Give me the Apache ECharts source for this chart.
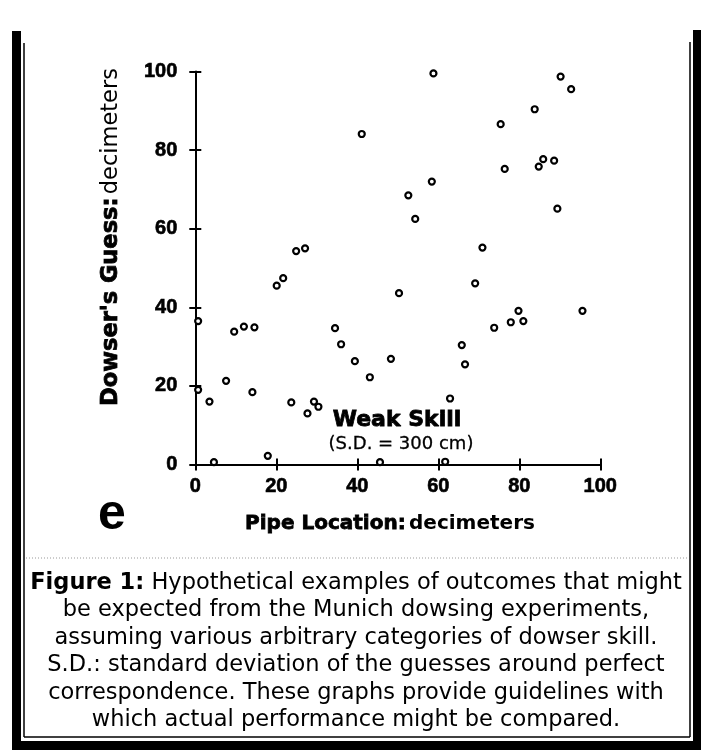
<!DOCTYPE html>
<html>
<head>
<meta charset="utf-8">
<script src="https://cdn.jsdelivr.net/npm/echarts@6.0.0/dist/echarts.min.js"></script>
<style>
  html, body { margin: 0; padding: 0; background: #fff; }
  #chart { width: 701px; height: 750px; }
</style>
</head>
<body>
<div id="chart"></div>
<script>
// pipe location (x) vs dowser's guess (y), both in decimeters
var pipeLocation = [0.7, 0.7, 3.5, 4.6, 7.6, 9.6, 12.0, 14.6, 14.1, 17.9,
  20.1, 21.7, 24.9, 27.1, 23.7, 27.7, 29.3, 30.4, 34.5, 36.0,
  39.4, 43.1, 45.6, 48.3, 50.3, 41.1, 52.6, 54.3, 58.4, 58.8,
  61.7, 62.9, 65.8, 66.6, 69.1, 70.9, 73.8, 75.4, 76.4, 77.9,
  79.8, 81.0, 83.8, 84.8, 85.9, 88.6, 89.4, 90.2, 92.8, 95.6];
var dowserGuess = [36.5, 19.0, 16.0, 0.6, 21.3, 33.8, 35.1, 34.9, 18.4, 2.2,
  45.5, 47.4, 54.3, 55.0, 15.8, 13.0, 16.0, 14.7, 34.7, 30.6,
  26.3, 22.2, 0.6, 26.9, 43.6, 84.1, 68.5, 62.5, 72.0, 99.5,
  0.7, 16.8, 30.4, 25.5, 46.1, 55.2, 34.8, 86.6, 75.2, 36.2,
  39.1, 36.5, 90.4, 75.8, 77.7, 77.3, 65.1, 98.7, 95.5, 39.1];
var xTicks = [0, 20, 40, 60, 80, 100];
var yTicks = [0, 20, 40, 60, 80, 100];

var panelLetter = 'e';
var panelTitle = 'Weak Skill';
var panelSubtitle = '(S.D. = 300 cm)';
var xName = ['Pipe Location:', 'decimeters'];
var yName = ["Dowser's Guess:", 'decimeters'];
var captionLines = [
  '{b|Figure 1:} Hypothetical examples of outcomes that might',
  'be expected from the Munich dowsing experiments,',
  'assuming various arbitrary categories of dowser skill.',
  'S.D.: standard deviation of the guesses around perfect',
  'correspondence. These graphs provide guidelines with',
  'which actual performance might be compared.'
];

var points = pipeLocation.map(function (x, i) { return [x, dowserGuess[i]]; });

var chart = echarts.init(document.getElementById('chart'));

function axisPair(type, ticks) {
  var base = {
    type: 'value',
    min: ticks[0],
    max: ticks[ticks.length - 1],
    interval: ticks[1] - ticks[0],
    splitLine: { show: false }
  };
  var labelMargin = type === 'x' ? 12 : 18;
  var main = Object.assign({}, base, {
    axisLine: { show: true, lineStyle: { color: '#000', width: 2 } },
    axisTick: { show: true, inside: false, length: 6, lineStyle: { color: '#000', width: 2 } },
    axisLabel: {
      color: '#000', fontFamily: 'Liberation Sans', fontWeight: 'bold',
      fontSize: 20, margin: labelMargin,
      textBorderColor: '#000', textBorderWidth: 0.6
    }
  });
  // second copy only draws the inner half of each tick
  var inner = Object.assign({}, base, {
    axisLine: { show: false },
    axisTick: { show: true, inside: true, length: 6, lineStyle: { color: '#000', width: 2 } },
    axisLabel: { show: false }
  });
  return [main, inner];
}

var xs = axisPair('x', xTicks);
var ys = axisPair('y', yTicks);
xs[0].position = 'bottom'; xs[1].position = 'bottom';
ys[0].position = 'left'; ys[1].position = 'left';

var captionGraphics = captionLines.map(function (line, i) {
  return {
    type: 'text',
    x: 356,
    y: 583 + i * 27.5,
    style: {
      text: line,
      font: '22.5px "DejaVu Sans"',
      fill: '#000',
      align: 'center', verticalAlign: 'middle',
      textAlign: 'center', textVerticalAlign: 'middle',
      rich: { b: { font: 'bold 22.5px "DejaVu Sans"', fill: '#000' } }
    }
  };
});

var frame = [
  { type: 'rect', shape: { x: 12, y: 31, width: 9, height: 719 }, style: { fill: '#000' } },
  { type: 'rect', shape: { x: 693, y: 30, width: 8, height: 720 }, style: { fill: '#000' } },
  { type: 'rect', shape: { x: 12, y: 741, width: 689, height: 9 }, style: { fill: '#000' } },
  { type: 'line', shape: { x1: 24, y1: 43, x2: 24, y2: 737 }, style: { stroke: '#000', lineWidth: 1.5 } },
  { type: 'line', shape: { x1: 690, y1: 42, x2: 690, y2: 737 }, style: { stroke: '#000', lineWidth: 1.5 } },
  { type: 'line', shape: { x1: 24, y1: 737, x2: 690, y2: 737 }, style: { stroke: '#000', lineWidth: 1.5 } },
  { type: 'line', shape: { x1: 26, y1: 558, x2: 688, y2: 558 },
    style: { stroke: '#999', lineWidth: 1, lineDash: [1, 2] } }
];

var labels = [
  {
    type: 'text', x: 112, y: 515,
    style: {
      text: panelLetter, font: 'bold 50px "Liberation Sans"', fill: '#000',
      align: 'center', verticalAlign: 'middle', textAlign: 'center', textVerticalAlign: 'middle'
    }
  },
  {
    type: 'text', x: 397, y: 420,
    style: {
      text: panelTitle, font: 'bold 22px "DejaVu Sans"', fill: '#000',
      stroke: '#000', lineWidth: 0.8,
      align: 'center', verticalAlign: 'middle', textAlign: 'center', textVerticalAlign: 'middle'
    }
  },
  {
    type: 'text', x: 401, y: 444,
    style: {
      text: panelSubtitle, font: '18px "DejaVu Sans"', fill: '#000',
      stroke: '#000', lineWidth: 0.3,
      align: 'center', verticalAlign: 'middle', textAlign: 'center', textVerticalAlign: 'middle'
    }
  },
  {
    type: 'text', x: 390, y: 524,
    style: {
      text: '{h|' + xName[0] + '} {n|' + xName[1] + '}',
      fill: '#000',
      align: 'center', verticalAlign: 'middle', textAlign: 'center', textVerticalAlign: 'middle',
      rich: {
        h: { font: 'bold 20px "DejaVu Sans"', fill: '#000', stroke: '#000', lineWidth: 0.8 },
        n: { font: 'bold 20px "DejaVu Sans"', fill: '#000' }
      }
    }
  },
  {
    type: 'text', x: 111, y: 237, rotation: Math.PI / 2,
    style: {
      text: '{h|' + yName[0] + '} {n|' + yName[1] + '}',
      fill: '#000',
      align: 'center', verticalAlign: 'middle', textAlign: 'center', textVerticalAlign: 'middle',
      rich: {
        h: { font: 'bold 22.5px "DejaVu Sans"', fill: '#000', stroke: '#000', lineWidth: 0.8 },
        n: { font: '22.5px "DejaVu Sans"', fill: '#000' }
      }
    }
  }
];

chart.setOption({
  backgroundColor: '#fff',
  animation: false,
  grid: { left: 195.3, right: 100.7, top: 71.5, bottom: 285.5, containLabel: false },
  xAxis: xs,
  yAxis: ys,
  series: [{
    type: 'scatter',
    xAxisIndex: 0,
    yAxisIndex: 0,
    data: points,
    symbol: 'circle',
    symbolSize: 6,
    itemStyle: { color: '#fff', borderColor: '#000', borderWidth: 2.2, opacity: 1 }
  }],
  graphic: frame.concat(labels, captionGraphics)
});
</script>
</body>
</html>
